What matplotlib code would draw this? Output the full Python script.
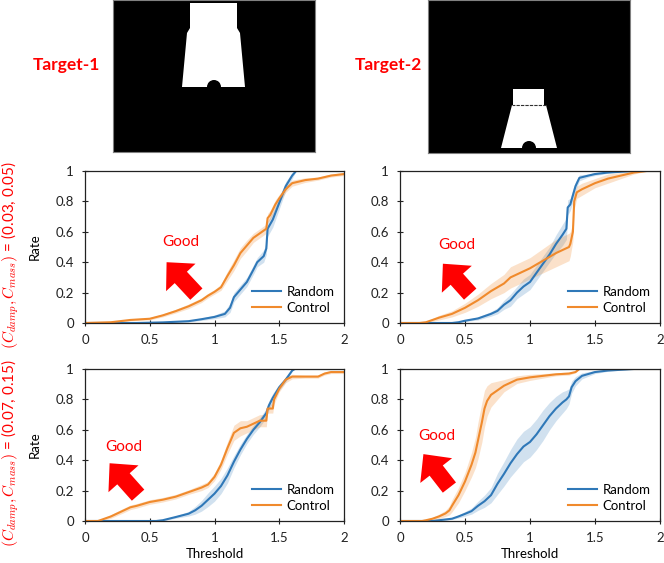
import numpy as np
import matplotlib
matplotlib.use("Agg")
import matplotlib.pyplot as plt
import matplotlib.patches as mpatches

plt.rcParams['font.family'] = ['Lato', 'DejaVu Sans']
plt.rcParams['mathtext.fontset'] = 'cm'

W, H = 664, 563
BLUE = '#2f78b8'
ORANGE = '#f08a2c'
RED = '#ff0000'

# ---- data ----
xticks = [0, 0.5, 1, 1.5, 2]
xtick_labels = ['0', '0.5', '1', '1.5', '2']
yticks = [0, 0.2, 0.4, 0.6, 0.8, 1.0]
ytick_labels = ['0', '0.2', '0.4', '0.6', '0.8', '1']
series_names = ['Random', 'Control']
row_labels = [r'$\left(C_{damp},C_{mass}\right)$ = (0.03, 0.05)',
              r'$\left(C_{damp},C_{mass}\right)$ = (0.07, 0.15)']
target_names = ['Target-1', 'Target-2']

# top-left panel
tl_rand_x = [0, 0.4, 0.6, 0.8, 0.9, 1.0, 1.08, 1.12, 1.15, 1.2, 1.25, 1.3, 1.33, 1.38, 1.40, 1.41, 1.45, 1.5, 1.55, 1.6, 1.63, 2.0]
tl_rand_y = [0, 0, 0.004, 0.012, 0.025, 0.04, 0.06, 0.1, 0.17, 0.22, 0.27, 0.35, 0.4, 0.44, 0.49, 0.62, 0.68, 0.79, 0.9, 0.97, 1.0, 1.0]
tl_rand_e = [0, 0, 0.003, 0.005, 0.008, 0.012, 0.02, 0.03, 0.03, 0.03, 0.03, 0.03, 0.03, 0.04, 0.04, 0.05, 0.05, 0.04, 0.03, 0.02, 0, 0]
tl_ctrl_x = [0, 0.2, 0.35, 0.5, 0.6, 0.7, 0.8, 0.9, 0.95, 1.0, 1.05, 1.1, 1.15, 1.2, 1.25, 1.3, 1.35, 1.4, 1.41, 1.43, 1.47, 1.5, 1.55, 1.6, 1.7, 1.8, 1.9, 2.0]
tl_ctrl_y = [0, 0.005, 0.02, 0.028, 0.05, 0.078, 0.11, 0.15, 0.18, 0.205, 0.235, 0.31, 0.38, 0.46, 0.51, 0.56, 0.59, 0.62, 0.69, 0.71, 0.78, 0.82, 0.88, 0.92, 0.94, 0.95, 0.97, 0.98]
tl_ctrl_e = [0, 0.003, 0.005, 0.008, 0.01, 0.012, 0.015, 0.015, 0.015, 0.015, 0.02, 0.03, 0.035, 0.035, 0.035, 0.03, 0.03, 0.03, 0.03, 0.03, 0.03, 0.025, 0.02, 0.02, 0.015, 0.01, 0.01, 0.01]

# top-right panel
tr_rand_x = [0, 0.4, 0.45, 0.5, 0.6, 0.7, 0.75, 0.8, 0.85, 0.9, 0.95, 1.0, 1.05, 1.1, 1.15, 1.2, 1.25, 1.28, 1.29, 1.31, 1.33, 1.35, 1.38, 1.45, 1.5, 1.6, 1.7, 1.8, 2.0]
tr_rand_y = [0, 0, 0.005, 0.015, 0.03, 0.06, 0.08, 0.12, 0.15, 0.2, 0.24, 0.27, 0.33, 0.39, 0.45, 0.52, 0.58, 0.62, 0.76, 0.78, 0.84, 0.9, 0.955, 0.97, 0.98, 0.99, 0.995, 1.0, 1.0]
tr_rand_e = [0, 0, 0.003, 0.005, 0.01, 0.015, 0.02, 0.03, 0.04, 0.04, 0.05, 0.05, 0.05, 0.05, 0.05, 0.06, 0.07, 0.07, 0.05, 0.04, 0.04, 0.03, 0.02, 0.01, 0.01, 0.005, 0, 0, 0]
tr_ctrl_x = [0, 0.15, 0.2, 0.3, 0.4, 0.5, 0.6, 0.7, 0.8, 0.85, 0.9, 1.0, 1.1, 1.2, 1.3, 1.31, 1.33, 1.34, 1.36, 1.4, 1.5, 1.6, 1.7, 1.8, 1.9, 2.0]
tr_ctrl_y = [0, 0, 0.005, 0.035, 0.06, 0.1, 0.15, 0.21, 0.26, 0.3, 0.32, 0.36, 0.41, 0.46, 0.5, 0.52, 0.6, 0.8, 0.86, 0.88, 0.92, 0.95, 0.97, 0.99, 1.0, 1.0]
tr_ctrl_e = [0, 0, 0.005, 0.015, 0.02, 0.03, 0.04, 0.05, 0.06, 0.07, 0.07, 0.07, 0.08, 0.09, 0.09, 0.08, 0.06, 0.05, 0.04, 0.04, 0.03, 0.03, 0.02, 0.01, 0, 0]

# bottom-left panel
bl_rand_x = [0, 0.55, 0.6, 0.7, 0.8, 0.85, 0.9, 0.95, 1.0, 1.05, 1.1, 1.15, 1.2, 1.25, 1.3, 1.35, 1.4, 1.42, 1.45, 1.5, 1.55, 1.6, 1.62, 2.0]
bl_rand_y = [0, 0, 0.005, 0.026, 0.048, 0.07, 0.1, 0.14, 0.18, 0.23, 0.3, 0.39, 0.47, 0.54, 0.6, 0.65, 0.71, 0.76, 0.81, 0.88, 0.93, 0.99, 1.0, 1.0]
bl_rand_e = [0, 0, 0.003, 0.008, 0.015, 0.025, 0.035, 0.045, 0.05, 0.05, 0.05, 0.04, 0.035, 0.03, 0.03, 0.03, 0.03, 0.03, 0.03, 0.02, 0.015, 0.005, 0, 0]
bl_ctrl_x = [0, 0.1, 0.15, 0.2, 0.3, 0.35, 0.4, 0.5, 0.6, 0.7, 0.8, 0.9, 0.95, 1.0, 1.05, 1.1, 1.15, 1.2, 1.25, 1.3, 1.35, 1.4, 1.41, 1.45, 1.46, 1.5, 1.55, 1.6, 1.7, 1.8, 1.85, 1.9, 2.0]
bl_ctrl_y = [0, 0, 0.015, 0.03, 0.07, 0.09, 0.1, 0.125, 0.14, 0.16, 0.19, 0.22, 0.24, 0.29, 0.37, 0.48, 0.58, 0.61, 0.62, 0.64, 0.66, 0.66, 0.74, 0.74, 0.8, 0.87, 0.93, 0.95, 0.95, 0.95, 0.97, 0.98, 0.98]
bl_ctrl_e = [0, 0, 0.008, 0.012, 0.015, 0.015, 0.015, 0.015, 0.015, 0.015, 0.015, 0.02, 0.02, 0.025, 0.03, 0.04, 0.05, 0.05, 0.04, 0.04, 0.04, 0.04, 0.03, 0.03, 0.03, 0.02, 0.02, 0.015, 0.01, 0.01, 0.01, 0.01, 0.01]

# bottom-right panel
br_rand_x = [0, 0.25, 0.3, 0.4, 0.45, 0.5, 0.55, 0.6, 0.65, 0.7, 0.75, 0.8, 0.85, 0.9, 0.95, 1.0, 1.05, 1.1, 1.15, 1.2, 1.25, 1.28, 1.3, 1.32, 1.35, 1.4, 1.5, 1.6, 1.7, 1.8, 2.0]
br_rand_y = [0, 0, 0.005, 0.015, 0.03, 0.047, 0.065, 0.1, 0.13, 0.17, 0.245, 0.31, 0.38, 0.44, 0.49, 0.52, 0.57, 0.63, 0.69, 0.74, 0.78, 0.8, 0.82, 0.88, 0.92, 0.955, 0.98, 0.99, 0.995, 1.0, 1.0]
br_rand_e = [0, 0, 0.003, 0.005, 0.01, 0.015, 0.02, 0.03, 0.04, 0.05, 0.07, 0.08, 0.09, 0.1, 0.1, 0.1, 0.1, 0.1, 0.09, 0.08, 0.07, 0.06, 0.05, 0.04, 0.03, 0.02, 0.01, 0.005, 0.003, 0, 0]
br_ctrl_x = [0, 0.17, 0.2, 0.25, 0.3, 0.35, 0.38, 0.4, 0.45, 0.5, 0.55, 0.58, 0.6, 0.63, 0.65, 0.67, 0.7, 0.75, 0.8, 0.9, 1.0, 1.1, 1.2, 1.3, 1.35, 1.38, 2.0]
br_ctrl_y = [0, 0, 0.005, 0.015, 0.03, 0.05, 0.07, 0.1, 0.17, 0.26, 0.37, 0.45, 0.53, 0.65, 0.74, 0.79, 0.83, 0.86, 0.89, 0.93, 0.945, 0.955, 0.965, 0.97, 0.98, 1.0, 1.0]
br_ctrl_e = [0, 0, 0.005, 0.01, 0.015, 0.02, 0.03, 0.04, 0.05, 0.06, 0.08, 0.1, 0.12, 0.13, 0.12, 0.1, 0.08, 0.06, 0.04, 0.025, 0.02, 0.015, 0.01, 0.01, 0.005, 0, 0]

# "Good" label and arrow (tip, tail) per panel, data coords
good_pos = [(0.74, 0.53), (0.44, 0.51), (0.30, 0.49), (0.285, 0.56)]
arrow_tip = [(0.63, 0.40), (0.33, 0.39), (0.19, 0.38), (0.18, 0.44)]
arrow_tail = [(0.86, 0.19), (0.54, 0.19), (0.41, 0.17), (0.38, 0.22)]

# silhouettes of the targets (pixel units inside each image box)
t1_outline = [(77, 3), (124, 3), (124, 28), (127, 33), (132, 87), (69, 87), (74, 33), (77, 28)]
t1_notch = (101, 87, 7)
t2_outline = [(85, 89), (116, 89), (116, 105), (118, 105), (129, 148), (73, 148), (84, 105), (85, 105)]
t2_notch = (101, 148, 7)
t2_dash_y = 105

panels = [
    (tl_rand_x, tl_rand_y, tl_rand_e, tl_ctrl_x, tl_ctrl_y, tl_ctrl_e),
    (tr_rand_x, tr_rand_y, tr_rand_e, tr_ctrl_x, tr_ctrl_y, tr_ctrl_e),
    (bl_rand_x, bl_rand_y, bl_rand_e, bl_ctrl_x, bl_ctrl_y, bl_ctrl_e),
    (br_rand_x, br_rand_y, br_rand_e, br_ctrl_x, br_ctrl_y, br_ctrl_e),
]

fig = plt.figure(figsize=(W / 100, H / 100), dpi=100)


def px_axes(x0, y0, x1, y1):
    return fig.add_axes([x0 / W, 1 - y1 / H, (x1 - x0) / W, (y1 - y0) / H])


# ---- target images ----
boxes = [(113, 0, 315, 152), (428, 0, 630, 153)]
outlines = [(t1_outline, t1_notch), (t2_outline, t2_notch)]
for k, (b, (outl, notch)) in enumerate(zip(boxes, outlines)):
    iax = px_axes(*b)
    iax.set_facecolor('black')
    iax.set_xlim(0, b[2] - b[0])
    iax.set_ylim(b[3] - b[1], 0)
    iax.set_xticks([])
    iax.set_yticks([])
    for s in iax.spines.values():
        s.set_color('#808080')
        s.set_linewidth(0.8)
    iax.add_patch(mpatches.Polygon(outl, closed=True, color='white', lw=0))
    iax.add_patch(mpatches.Circle(notch[:2], notch[2], color='black', lw=0))
    if k == 1:
        iax.plot([outl[3][0], outl[6][0]], [t2_dash_y, t2_dash_y], color='#303030',
                 lw=0.8, ls=(0, (3, 1)))

fig.text(66 / W, 1 - 65 / H, target_names[0], color=RED, fontsize=12.5,
         fontweight='bold', ha='center', va='center')
fig.text(388 / W, 1 - 65 / H, target_names[1], color=RED, fontsize=12.5,
         fontweight='bold', ha='center', va='center')

# ---- CDF panels ----
rects = [(85, 171, 344, 323), (400, 171, 660, 323), (85, 369, 344, 521), (400, 369, 660, 521)]
for i, (r, d) in enumerate(zip(rects, panels)):
    ax = px_axes(*r)
    rx, ry, re_, cx, cy, ce = [np.asarray(v, dtype=float) for v in d]
    ax.fill_between(rx, np.clip(ry - re_, 0, 1), np.clip(ry + re_, 0, 1),
                    color=BLUE, alpha=0.22, lw=0)
    ax.fill_between(cx, np.clip(cy - ce, 0, 1), np.clip(cy + ce, 0, 1),
                    color=ORANGE, alpha=0.25, lw=0)
    ax.plot(rx, ry, color=BLUE, lw=1.5, label=series_names[0])
    ax.plot(cx, cy, color=ORANGE, lw=1.5, label=series_names[1])
    ax.set_xlim(0, 2)
    ax.set_ylim(0, 1)
    ax.set_xticks(xticks)
    ax.set_xticklabels(xtick_labels)
    ax.set_yticks(yticks)
    ax.set_yticklabels(ytick_labels)
    ax.tick_params(direction='inout', length=4, width=0.8, labelsize=9.5,
                   colors='#222222', pad=6)
    for s in ax.spines.values():
        s.set_color('#222222')
        s.set_linewidth(0.9)
    if i % 2 == 0:
        ax.set_ylabel('Rate', fontsize=9.5)
        ax.yaxis.set_label_coords(-0.17, 0.5)
    if i >= 2:
        ax.set_xlabel('Threshold', fontsize=9.5)
        ax.xaxis.set_label_coords(0.5, -0.175)
    ax.legend(loc='lower right', frameon=False, fontsize=9.5, handlelength=2.2,
              handletextpad=0.4, labelspacing=0.3, borderaxespad=0.3)
    gx, gy = good_pos[i]
    ax.text(gx, gy, 'Good', color=RED, fontsize=11, ha='center', va='center')
    ax.annotate('', xy=arrow_tip[i], xytext=arrow_tail[i],
                arrowprops=dict(arrowstyle='simple,head_length=1.5,head_width=2.9,tail_width=1.2',
                                color=RED, lw=0, mutation_scale=10,
                                shrinkA=0, shrinkB=0))

fig.text(10 / W, 1 - 255 / H, row_labels[0], color=RED, fontsize=11,
         rotation=90, ha='center', va='center')
fig.text(10 / W, 1 - 453 / H, row_labels[1], color=RED, fontsize=11,
         rotation=90, ha='center', va='center')

fig.savefig('out.png', dpi=100)
